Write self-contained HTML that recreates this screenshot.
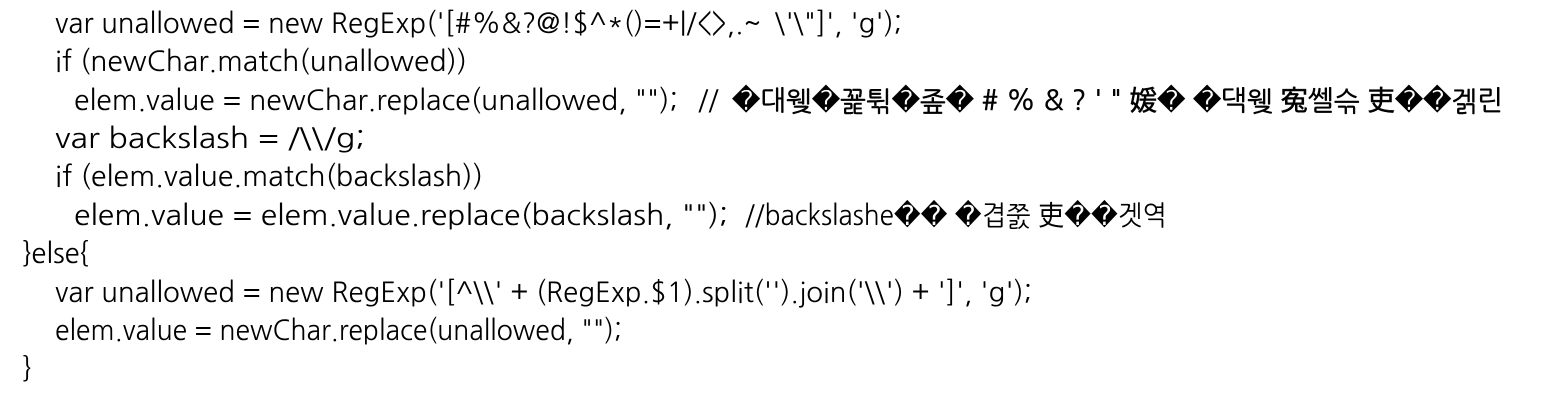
<!DOCTYPE html>
<html><head><meta charset="utf-8"><style>
html,body{margin:0;padding:0;background:#fff;width:1558px;height:400px;overflow:hidden}
svg{display:block}
text{font-family:"NanumGothic","Liberation Sans","Noto Sans CJK KR",sans-serif;font-size:27.5px;fill:#000;white-space:pre}
.k{stroke:#000;stroke-width:0.5px}
</style></head><body>
<svg width="1558" height="400" xmlns="http://www.w3.org/2000/svg" xml:space="preserve">
<text x="55" y="33" textLength="847" lengthAdjust="spacingAndGlyphs">var unallowed = new RegExp('[#%&amp;?@!$^*()=+|/&lt;&gt;,.~`\'\"]', 'g');</text>
<text x="55" y="71" textLength="412" lengthAdjust="spacingAndGlyphs">if (newChar.match(unallowed))</text>
<text x="74" y="110" textLength="604" lengthAdjust="spacingAndGlyphs">elem.value = newChar.replace(unallowed, "");</text>
<text x="698" y="110">//</text>
<text class="k" x="732" y="110" textLength="771" lengthAdjust="spacingAndGlyphs">�대웾�꾩튂�좊� # % &amp; ? ' " 媛� �댁웾 寃쎌슦 吏��겕린</text>
<text x="55" y="148" textLength="310" lengthAdjust="spacingAndGlyphs">var backslash = /\\/g;</text>
<text x="55" y="186" textLength="428" lengthAdjust="spacingAndGlyphs">if (elem.value.match(backslash))</text>
<text x="74" y="225" textLength="654" lengthAdjust="spacingAndGlyphs">elem.value = elem.value.replace(backslash, "");</text>
<text x="745" y="225" textLength="422" lengthAdjust="spacingAndGlyphs">//backslashe�� �겹쭔 吏��겟역</text>
<text x="23" y="263">}else{</text>
<text x="55" y="302" textLength="977" lengthAdjust="spacingAndGlyphs">var unallowed = new RegExp('[^\\' + (RegExp.$1).split('').join('\\') + ']', 'g');</text>
<text x="55" y="340" textLength="567" lengthAdjust="spacingAndGlyphs">elem.value = newChar.replace(unallowed, "");</text>
<text x="23" y="378">}</text>
</svg>
</body></html>
